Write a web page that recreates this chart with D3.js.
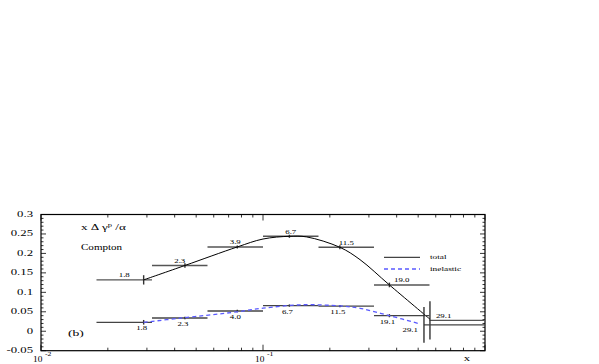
<!DOCTYPE html>
<html>
<head>
<meta charset="utf-8">
<script src="https://cdn.jsdelivr.net/npm/d3@7"></script>
<style>
  body { margin: 0; background: #fff; }
  text { font-family: "Liberation Serif", "Times New Roman", serif; fill: #000; }
</style>
</head>
<body>
<div id="chart"></div>
<script>
// values
const binEdges = [0.01778, 0.03162, 0.05623, 0.1, 0.1778, 0.3162, 0.5623, 1.0];
const totalX = [0.029, 0.0445, 0.0766, 0.1315, 0.222, 0.371, 0.565];
const totalY = [0.132, 0.169, 0.2166, 0.244, 0.2157, 0.119, 0.028];
const totalErr = [0.012, 0.006, 0.004, 0.004, 0.005, 0.006, 0.049];
const totalLabels = ["1.8", "2.3", "3.9", "6.7", "11.5", "19.0", "29.1"];

const inelX = [0.029, 0.0445, 0.0766, 0.1315, 0.222, 0.371, 0.531];
const inelY = [0.023, 0.034, 0.052, 0.066, 0.0645, 0.040, 0.0166];
const inelErr = [0.006, 0.003, 0.003, 0.003, 0.003, 0.004, 0.046];
const inelLo = [0.01778, 0.03162, 0.05623, 0.1, 0.1778, 0.3162, 0.531];
const inelLabels = ["1.8", "2.3", "4.0", "6.7", "11.5", "19.1", "29.1"];

const totalCurveX = [0.029, 0.0445, 0.0766, 0.1, 0.1315, 0.157, 0.222, 0.2735, 0.371, 0.565];
const totalCurveY = [0.132, 0.169, 0.2166, 0.237, 0.244, 0.2425, 0.2157, 0.184, 0.119, 0.031];
const inelCurveX = [0.029, 0.0423, 0.0766, 0.1, 0.15, 0.222, 0.2735, 0.371, 0.509];
const inelCurveY = [0.023, 0.0335, 0.050, 0.0593, 0.068, 0.065, 0.059, 0.040, 0.019];

const yTicks = [-0.05, 0, 0.05, 0.1, 0.15, 0.2, 0.25, 0.3];
const yTickLabels = ["-0.05", "0", "0.05", "0.1", "0.15", "0.2", "0.25", "0.3"];
const xDecades = [0.01, 0.1, 1];
const xDecadeLabels = ["-2", "-1", ""];

const W = 599, H = 364;
const pLeft = 41, pRight = 485, pTop = 214.5, pBottom = 350.7;
const SX = 1.7; // text in the picture is stretched sideways

const svg = d3.select("#chart").append("svg")
    .attr("width", W)
    .attr("height", H);

const x = d3.scaleLog().domain([0.01, 1]).range([pLeft, pRight]);
const y = d3.scaleLinear().domain([-0.05, 0.3]).range([pBottom, pTop]);

function stext(px, py, str, size, anchor, sx) {
    return svg.append("text")
        .attr("transform", `translate(${px},${py}) scale(${sx},1)`)
        .attr("text-anchor", anchor || "start")
        .style("font-size", size + "px")
        .text(str);
}

// frame
svg.append("rect")
    .attr("x", pLeft).attr("y", pTop)
    .attr("width", pRight - pLeft).attr("height", pBottom - pTop)
    .attr("fill", "none").attr("stroke", "#000").attr("stroke-width", 1.2);

// y ticks, both sides, pointing in
const yMinor = d3.range(-50, 301, 10).map(v => v / 1000);
yMinor.forEach(v => {
    const major = yTicks.some(t => Math.abs(t - v) < 1e-9);
    const len = major ? 5 : 2.5;
    svg.append("line").attr("x1", pLeft).attr("x2", pLeft + len)
        .attr("y1", y(v)).attr("y2", y(v)).attr("stroke", "#000").attr("stroke-width", 0.8);
    svg.append("line").attr("x1", pRight).attr("x2", pRight - len)
        .attr("y1", y(v)).attr("y2", y(v)).attr("stroke", "#000").attr("stroke-width", 0.8);
});
yTicks.forEach((v, i) => {
    stext(33, y(v) + 2.5, yTickLabels[i], 7.5, "end", SX);
});

// x ticks, top and bottom
const xMinor = [];
[0.01, 0.1].forEach(d => { for (let k = 1; k <= 9; k++) xMinor.push(d * k); });
xMinor.push(1);
xMinor.forEach(v => {
    const major = xDecades.some(t => Math.abs(t - v) < 1e-9);
    const len = major ? 6 : 3;
    svg.append("line").attr("x1", x(v)).attr("x2", x(v))
        .attr("y1", pBottom).attr("y2", pBottom - len).attr("stroke", "#000").attr("stroke-width", 0.8);
    svg.append("line").attr("x1", x(v)).attr("x2", x(v))
        .attr("y1", pTop).attr("y2", pTop + len).attr("stroke", "#000").attr("stroke-width", 0.8);
});
xDecades.forEach((v, i) => {
    if (!xDecadeLabels[i]) return;
    const cx = x(v) - 8;
    stext(cx, 361.5, "10", 7.5, "start", 1.25);
    stext(cx + 12, 356, xDecadeLabels[i], 5.5, "start", 1.4);
});
stext(467, 361, "x", 7.5, "middle", SX);

// titles
const title = svg.append("text")
    .attr("transform", `translate(81,230) scale(1.55,1)`)
    .style("font-size", "8.5px");
title.append("tspan").text("x \u0394 \u03b3");
title.append("tspan").attr("dy", -3.5).style("font-size", "5.5px").text("p");
title.append("tspan").attr("dy", 3.5).text(" /\u03b1");
stext(81, 250, "Compton", 8.5, "start", 1.3);
stext(68, 336, "(b)", 8, "start", SX);

// total: bins, error bars, curve
const barColor = "#555";
totalX.forEach((v, i) => {
    svg.append("line")
        .attr("x1", x(binEdges[i])).attr("x2", x(binEdges[i + 1]))
        .attr("y1", y(totalY[i])).attr("y2", y(totalY[i]))
        .attr("stroke", barColor).attr("stroke-width", 1.4);
    svg.append("line")
        .attr("x1", x(v)).attr("x2", x(v))
        .attr("y1", y(totalY[i] - totalErr[i])).attr("y2", y(totalY[i] + totalErr[i]))
        .attr("stroke", "#333").attr("stroke-width", 1.4);
});

const line = d3.line().curve(d3.curveCatmullRom.alpha(0.5));
svg.append("path")
    .datum(totalCurveX.map((v, i) => [x(v), y(totalCurveY[i])]))
    .attr("d", line)
    .attr("fill", "none").attr("stroke", "#000").attr("stroke-width", 1);

// inelastic
inelX.forEach((v, i) => {
    svg.append("line")
        .attr("x1", x(inelLo[i])).attr("x2", x(binEdges[i + 1]))
        .attr("y1", y(inelY[i])).attr("y2", y(inelY[i]))
        .attr("stroke", "#444").attr("stroke-width", 1.3);
    svg.append("line")
        .attr("x1", x(v)).attr("x2", x(v))
        .attr("y1", y(inelY[i] - inelErr[i])).attr("y2", y(inelY[i] + inelErr[i]))
        .attr("stroke", "#333").attr("stroke-width", 1.4);
});

svg.append("path")
    .datum(inelCurveX.map((v, i) => [x(v), y(inelCurveY[i])]))
    .attr("d", line)
    .attr("fill", "none").attr("stroke", "#5a5aff").attr("stroke-width", 1.3)
    .attr("stroke-dasharray", "4,3");

// labels
const LS = 5.2;
totalLabels.forEach((s, i) => {
    if (i === totalLabels.length - 1) {
        stext(x(totalX[i]) + 6, y(totalY[i]) - 2.5, s, LS, "start", SX);
    } else {
        const cx = (x(binEdges[i]) + x(binEdges[i + 1])) / 2;
        stext(cx, y(totalY[i]) - 2.5, s, LS, "middle", SX);
    }
});
inelLabels.forEach((s, i) => {
    if (i === inelLabels.length - 1) {
        stext(x(inelX[i]) - 6, y(inelY[i]) + 7.5, s, LS, "end", SX);
    } else {
        stext(x(inelX[i]) - 2, y(inelY[i]) + 8, s, LS, "middle", SX);
    }
});

// legend
const lgX = 384, lgY = 257.3;
svg.append("line").attr("x1", lgX).attr("x2", lgX + 36)
    .attr("y1", lgY).attr("y2", lgY).attr("stroke", "#444").attr("stroke-width", 1.2);
svg.append("line").attr("x1", lgX).attr("x2", lgX + 36)
    .attr("y1", lgY + 11.7).attr("y2", lgY + 11.7)
    .attr("stroke", "#5a5aff").attr("stroke-width", 1.4).attr("stroke-dasharray", "4,3");
stext(lgX + 46, lgY + 2, "total", 5.5, "start", SX);
stext(lgX + 46, lgY + 13.7, "inelastic", 5.5, "start", SX);
</script>
</body>
</html>
